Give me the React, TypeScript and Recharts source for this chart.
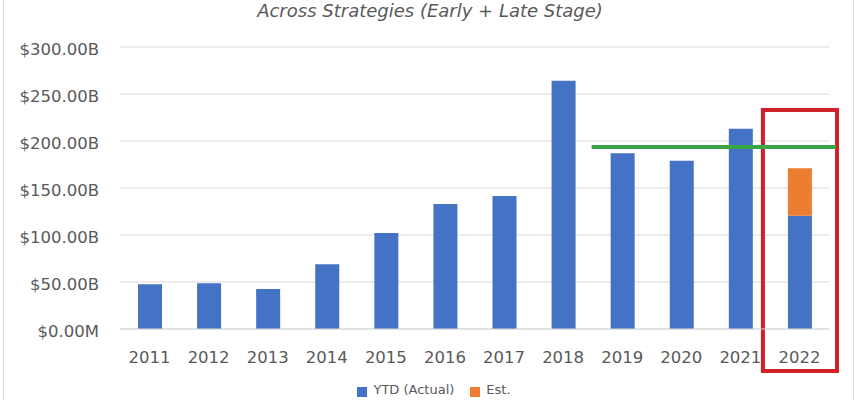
import React from "react";
import { BarChart, Bar, XAxis, YAxis, CartesianGrid, Legend, ReferenceLine, ReferenceArea } from "recharts";

// years on the x axis
const years = ["2011", "2012", "2013", "2014", "2015", "2016", "2017", "2018", "2019", "2020", "2021", "2022"];
// YTD actual capital, $B
const ytdActual = [47.5, 48.6, 42.5, 69, 102, 133, 141.5, 264, 187, 179, 213, 120.5];
// estimate for the rest of the year, $B (only 2022)
const estimate = [0, 0, 0, 0, 0, 0, 0, 0, 0, 0, 0, 50.5];
const yTicks = [0, 50, 100, 150, 200, 250, 300];
// 2019-2021 level line and the highlighted year
const levelValue = 193.5;
const levelFrom = "2019";
const levelTo = "2022";
const highlightYear = "2022";
const highlightTop = 233;

const FONT = "'DejaVu Sans', sans-serif";
const GRAY_TEXT = "#595959";
const SERIES_ORDER = ["ytd", "est"];

const data = years.map((year, i) => ({ year, ytd: ytdActual[i], est: estimate[i] }));

const fmtY = (v: number) => (v === 0 ? "$0.00M" : `$${v.toFixed(2)}B`);

// level line: starts at the start of the 2019 band, runs past the 2022 band
const LevelShape = (p: any) => {
  const { x1, x2, y1 } = p;
  const band = (x2 - x1) / 3;
  return <line x1={x1 - 1} x2={x2 + band + 7} y1={y1} y2={y1} stroke="#39a547" strokeWidth={4} />;
};

// red box around the 2022 column, incl. its tick label
const HighlightShape = (p: any) => {
  const { x, y, width, height } = p;
  return (
    <rect x={x - 7} y={y} width={width + 15} height={height + 42} fill="none" stroke="#d0202a" strokeWidth={4} />
  );
};

const renderLegend = (props: any) => {
  const items = [...(props.payload || [])].sort(
    (a: any, b: any) => SERIES_ORDER.indexOf(a.dataKey) - SERIES_ORDER.indexOf(b.dataKey)
  );
  return (
    <div
      style={{
        display: "flex",
        justifyContent: "center",
        paddingLeft: 8,
        fontFamily: FONT,
        fontSize: 13,
        lineHeight: "16px",
        color: GRAY_TEXT,
      }}
    >
      {items.map((entry: any, i: number) => (
        <div key={entry.value} style={{ display: "flex", alignItems: "flex-start", marginRight: i < items.length - 1 ? 16 : 0 }}>
          <div style={{ width: 10, height: 10, background: entry.color, marginTop: 5, marginRight: 6 }} />
          <span>{entry.value}</span>
        </div>
      ))}
    </div>
  );
};

export default function App() {
  return (
    <div style={{ position: "absolute", left: 0, top: 0, width: 860, height: 400, overflow: "hidden", background: "#fff" }}>
      <div style={{ position: "absolute", left: 3, top: 0, width: 849, height: 400, borderLeft: "1px solid #d9d9d9", borderRight: "1px solid #d9d9d9" }} />
      <div
        style={{
          position: "absolute",
          top: 1,
          left: 0,
          width: 860,
          textAlign: "center",
          fontFamily: FONT,
          fontStyle: "italic",
          fontSize: 18,
          lineHeight: "19px",
          color: GRAY_TEXT,
        }}
      >
        Across Strategies (Early + Late Stage)
      </div>
      <BarChart width={860} height={400} data={data} margin={{ top: 47, right: 31, left: 0, bottom: 41 }}>
        <CartesianGrid vertical={false} stroke="#d9d9d9" />
        <XAxis
          dataKey="year"
          height={30}
          interval={0}
          tickLine={false}
          axisLine={{ stroke: "#d9d9d9" }}
          tickMargin={16}
          tick={{ fill: GRAY_TEXT, fontSize: 16.5, fontFamily: FONT }}
        />
        <YAxis
          width={120}
          domain={[0, 300]}
          ticks={yTicks}
          interval={0}
          axisLine={false}
          tickLine={false}
          tickMargin={15}
          tickFormatter={fmtY}
          tick={{ fill: GRAY_TEXT, fontSize: 16.5, fontFamily: FONT, dy: 2 }}
        />
        <Bar dataKey="ytd" name="YTD (Actual)" stackId="a" fill="#4472c4" barSize={24} isAnimationActive={false} />
        <Bar dataKey="est" name="Est." stackId="a" fill="#ed7d31" barSize={24} isAnimationActive={false} />
        <ReferenceLine
          segment={[
            { x: levelFrom, y: levelValue },
            { x: levelTo, y: levelValue },
          ]}
          position="start"
          ifOverflow="visible"
          shape={LevelShape}
        />
        <ReferenceArea x1={highlightYear} x2={highlightYear} y1={highlightTop} y2={0} ifOverflow="visible" shape={HighlightShape} />
        <Legend
          verticalAlign="middle"
          align="center"
          content={renderLegend}
          wrapperStyle={{ top: 382, left: 0, width: 860 }}
        />
      </BarChart>
    </div>
  );
}
